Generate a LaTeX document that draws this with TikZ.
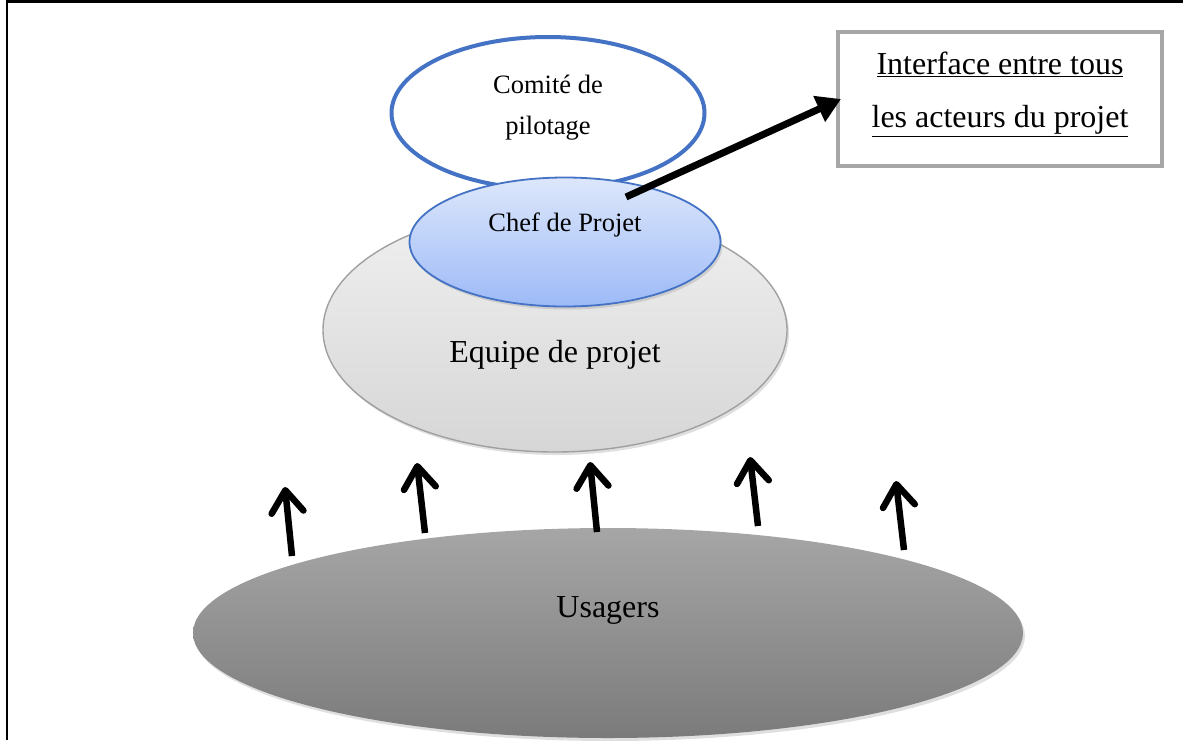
\documentclass[tikz,border=0pt]{standalone}
\usepackage{fontspec}
\setmainfont{Liberation Serif}
\usetikzlibrary{shapes.geometric,arrows.meta,shadows}
\definecolor{ringblue}{HTML}{4472C4}
\definecolor{chefTop}{HTML}{DDE7FB}
\definecolor{chefBot}{HTML}{9DBAF7}
\definecolor{teamTop}{HTML}{F0F0F0}
\definecolor{teamBot}{HTML}{D6D6D6}
\definecolor{teamLine}{HTML}{A0A0A0}
\definecolor{userTop}{HTML}{A6A6A6}
\definecolor{userBot}{HTML}{7B7B7B}
\definecolor{boxLine}{HTML}{A6A6A6}
\tikzset{
  blob/.style={ellipse, inner sep=0pt},
  softshadow/.style={drop shadow={opacity=0.25, shadow xshift=2pt, shadow yshift=-3pt}},
  smalltext/.style={font=\fontsize{26.5}{30}\selectfont, inner sep=0pt},
  bigtext/.style={font=\fontsize{32}{36}\selectfont, inner sep=0pt},
  uparrow/.style={line width=6.5pt, -{Straight Barb[length=22pt,width=32pt,round]}},
  pointer/.style={line width=7pt, -{Triangle[length=24pt,width=27pt]}}
}
\begin{document}
\begin{tikzpicture}[x=1pt,y=-1pt]
\useasboundingbox (0,0) rectangle (1183,740);

% page frame (top and left edges only)
\draw[line width=2.6pt] (7,740) -- (7,1.5) -- (1183,1.5);

% users
\node[blob, softshadow, top color=userTop, bottom color=userBot,
      minimum width=830pt, minimum height=210pt] (usagers) at (608,633) {};
\node[bigtext] (usagers-txt) at (608,610) {Usagers};

% steering committee
\node[blob, draw=ringblue, line width=4pt, fill=white,
      minimum width=313pt, minimum height=152pt] (comite) at (548,113) {};
\node[smalltext] (comite-l1) at (548,84) {Comité de};
\node[smalltext] (comite-l2) at (548,128) {pilotage};

% project team
\node[blob, softshadow, draw=teamLine, line width=1.4pt,
      top color=teamTop, bottom color=teamBot,
      minimum width=464pt, minimum height=244pt] (equipe) at (555,330) {};
\node[bigtext] (equipe-txt) at (555,355) {Equipe de projet};

% project manager
\node[blob, softshadow, draw=ringblue, line width=1.8pt,
      top color=chefTop, bottom color=chefBot,
      minimum width=311pt, minimum height=129pt] (chef) at (565,242) {};
\node[smalltext] (chef-txt) at (565,225) {Chef de Projet};

% interface box
\node[draw=boxLine, line width=4pt, fill=white, minimum width=324pt,
      minimum height=134pt, inner sep=0pt] (box) at (1000,99) {};
\node[bigtext] (box-l1) at (1000,64) {\underline{Interface entre tous}};
\node[bigtext] (box-l2) at (1000,121) {\underline{les acteurs du projet}};

% pointer from the manager to the box
\coordinate (ptr) at (626,197);
\coordinate (ptr-end) at (841,99);
\draw[pointer] (ptr) -- (ptr-end);

% upward arrows from the users
\coordinate (a1s) at (292,556); \coordinate (a1e) at (285,487);
\coordinate (a2s) at (425,533); \coordinate (a2e) at (417,463);
\coordinate (a3s) at (597,532); \coordinate (a3e) at (590,462);
\coordinate (a4s) at (758,526); \coordinate (a4e) at (750,457);
\coordinate (a5s) at (904,550); \coordinate (a5e) at (896,481);
\foreach \i in {1,...,5} {
  \draw[uparrow] (a\i s) -- (a\i e);
}
\end{tikzpicture}
\end{document}
